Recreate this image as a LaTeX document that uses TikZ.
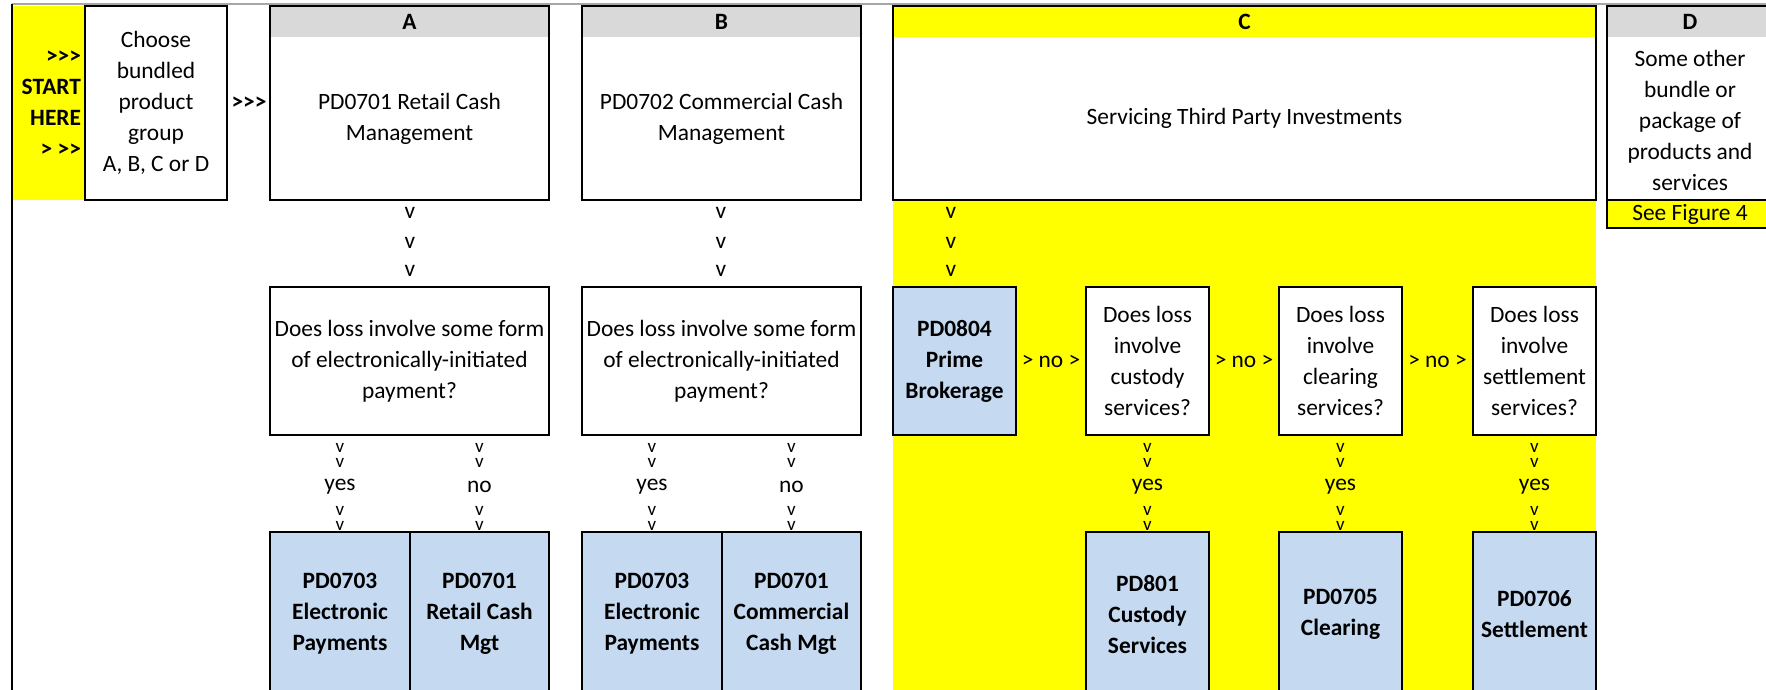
\documentclass[tikz,border=0pt]{standalone}
\usepackage{fontspec}
\setmainfont{Carlito}
\usetikzlibrary{calc}
\definecolor{yel}{HTML}{FFFF00}
\definecolor{lblue}{HTML}{C5D9F1}
\definecolor{hgray}{HTML}{D9D9D9}
\definecolor{rulegray}{HTML}{A6A6A6}
\newcommand\fs{\fontsize{11.7}{15.5}\selectfont}
\newcommand\dchev{{\fontsize{9.5}{4}\selectfont\lineskip=0.3pt\shortstack{v\\v}}}
\tikzset{
  x=0.5pt, y=-0.5pt,
  every node/.style={font=\fs, inner sep=0pt, outer sep=0pt},
  frame/.style={draw=black, line width=1pt},
  cell/.style={frame, anchor=north west, align=center},
  bcell/.style={cell, fill=lblue, font=\fs\bfseries},
  qcell/.style={cell, fill=white},
  lbl/.style={align=center},
  hdrtxt/.style={font=\fs\bfseries},
}
\begin{document}
\begin{tikzpicture}
\useasboundingbox (0,0) rectangle (1766,690);
\clip (0,0) rectangle (1766,690);
\fill[white] (0,0) rectangle (1766,690);
% backgrounds
\fill[yel] (13,6) rectangle (84,200);
\fill[yel] (893,200) rectangle (1596,690);
\draw[rulegray, line width=0.8pt] (12,4) -- (1766,4);
\draw[black, line width=0.8pt] (12,4) -- (12,690);

% start column
\node[font=\fs\bfseries, align=right, anchor=east] (start) at (81,104) {>{}>{}>\\START\\HERE\\> >{}>};
\node[qcell, minimum width=71pt, minimum height=97pt] (choose) at (85,6) {Choose\\bundled\\product\\group\\A, B, C or D};
\node[font=\fs\bfseries] (go) at (249,103) {>{}>{}>};

% A
\node[qcell, minimum width=139.5pt, minimum height=97pt] (A) at (270,6) {};
\fill[hgray] (A.north west) rectangle ([yshift=-15.5pt]A.north east);
\node[hdrtxt] (Ah) at ([yshift=-7.75pt]A.north) {A};
\draw[frame] (A.north west) rectangle (A.south east);
\node[lbl] (At) at ([yshift=-7.75pt]A.center) {PD0701 Retail Cash\\Management};

% B
\node[qcell, minimum width=139.5pt, minimum height=97pt] (B) at (582,6) {};
\fill[hgray] (B.north west) rectangle ([yshift=-15.5pt]B.north east);
\node[hdrtxt] (Bh) at ([yshift=-7.75pt]B.north) {B};
\draw[frame] (B.north west) rectangle (B.south east);
\node[lbl] (Bt) at ([yshift=-7.75pt]B.center) {PD0702 Commercial Cash\\Management};

% C
\node[qcell, minimum width=351.5pt, minimum height=97pt] (C) at (893,6) {};
\fill[yel] (C.north west) rectangle ([yshift=-15.5pt]C.north east);
\node[hdrtxt] (Ch) at ([yshift=-7.75pt]C.north) {C};
\draw[frame] (C.north west) rectangle (C.south east);
\node[lbl] (Ct) at ([yshift=-7.75pt]C.center) {Servicing Third Party Investments};

% D
\node[qcell, minimum width=83pt, minimum height=97pt] (D) at (1607,6) {};
\fill[hgray] (D.north west) rectangle ([yshift=-15.5pt]D.north east);
\node[hdrtxt] (Dh) at ([yshift=-7.75pt]D.north) {D};
\draw[frame] (D.north west) rectangle (D.south east);
\node[lbl] (Dt) at ([yshift=-8.5pt]D.center) {Some other\\bundle or\\package of\\products and\\services};
\node[cell, fill=yel, minimum width=83pt, minimum height=14pt] (see) at (D.south west) {See Figure 4};

% single chevrons
\foreach \yy [count=\i] in {213,243,271} {
  \node (va\i) at (410,\yy) {v};
  \node (vb\i) at (721,\yy) {v};
  \node (vc\i) at (951,\yy) {v};
}

% row 2
\node[qcell, minimum width=139.5pt, minimum height=74pt] (qa) at (270,287) {Does loss involve some form\\of electronically-initiated\\payment?};
\node[qcell, minimum width=139.5pt, minimum height=74pt] (qb) at (582,287) {Does loss involve some form\\of electronically-initiated\\payment?};
\node[bcell, minimum width=61.5pt, minimum height=74pt] (prime) at (893,287) {PD0804\\Prime\\Brokerage};
\node[qcell, minimum width=61.5pt, minimum height=74pt] (qcu) at (1086,287) {Does loss\\involve\\custody\\services?};
\node[qcell, minimum width=61.5pt, minimum height=74pt] (qcl) at (1279,287) {Does loss\\involve\\clearing\\services?};
\node[qcell, minimum width=61.5pt, minimum height=74pt] (qse) at (1473,287) {Does loss\\involve\\settlement\\services?};
\node (no1) at ($(prime.east)!0.5!(qcu.west)$) {> no >};
\node (no2) at ($(qcu.east)!0.5!(qcl.west)$) {> no >};
\node (no3) at ($(qcl.east)!0.5!(qse.west)$) {> no >};

% row 3
\node[bcell, minimum width=70pt, minimum height=82pt] (a1) at (270,532) {PD0703\\Electronic\\Payments};
\node[bcell, minimum width=69.5pt, minimum height=82pt] (a2) at (410,532) {PD0701\\Retail Cash\\Mgt};
\node[bcell, minimum width=70pt, minimum height=82pt] (b1) at (582,532) {PD0703\\Electronic\\Payments};
\node[bcell, minimum width=69.5pt, minimum height=82pt] (b2) at (722,532) {PD0701\\Commercial\\Cash Mgt};
\node[bcell, minimum width=61.5pt, minimum height=82pt] (cu) at (1086,532) {PD801\\Custody\\Services};
\node[bcell, minimum width=61.5pt, minimum height=82pt] (cl) at (1279,532) {PD0705\\Clearing};
\node[bcell, minimum width=61.5pt, minimum height=82pt] (se) at (1473,532) {PD0706\\Settlement};

% yes/no chevrons
\foreach \nm/\lab in {a1/yes,a2/no,b1/yes,b2/no,cu/yes,cl/yes,se/yes} {
  \path (\nm.north) ++(0,-77) node (\nm-c1) {\dchev}
        ++(0,32) node (\nm-l) {\lab}
        ++(0,31) node (\nm-c2) {\dchev};
}
\end{tikzpicture}
\end{document}
